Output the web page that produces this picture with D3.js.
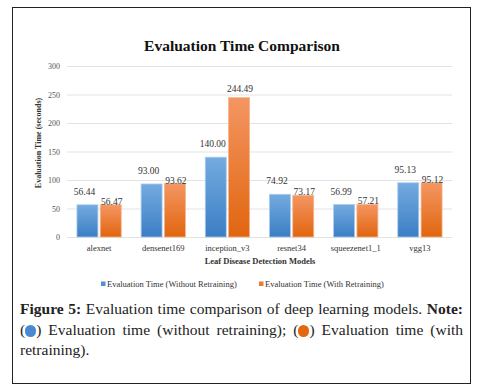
<!DOCTYPE html>
<html>
<head>
<meta charset="utf-8">
<script src="https://cdn.jsdelivr.net/npm/d3@7"></script>
<style>
  body { margin: 0; background: #fff; }
  #frame { position: absolute; left: 12px; top: 7px; width: 459px; height: 377px;
           border: 1.5px solid #222; box-sizing: border-box; }
  svg { position: absolute; left: 0; top: 0; }
  .cap { position: absolute; left: 20px; width: 443px;
         font-family: "Liberation Serif", "Times New Roman", serif;
         font-size: 15.5px; color: #222; white-space: nowrap; }
  .cap.j { text-align: justify; text-align-last: justify; }
  .dot { display: inline-block; width: 11px; height: 12px; border-radius: 6px; vertical-align: -2px; }
</style>
</head>
<body>
<div id="frame"></div>
<svg width="479" height="390"></svg>
<div class="cap j" style="top:300px"><b>Figure 5:</b> Evaluation time comparison of deep learning models. <b>Note:</b></div>
<div class="cap j" style="top:321px">(<span class="dot" style="background:#4a88d2"></span>) Evaluation time (without retraining); (<span class="dot" style="background:#e2690f"></span>) Evaluation time (with</div>
<div class="cap" style="top:341px">retraining).</div>
<script>
var models = ['alexnet', 'densenet169', 'inception_v3', 'resnet34', 'squeezenet1_1', 'vgg13'];
var withoutRetraining = [56.44, 93.00, 140.00, 74.92, 56.99, 95.13];
var withRetraining = [56.47, 93.62, 244.49, 73.17, 57.21, 95.12];
var seriesNames = ['Evaluation Time (Without Retraining)', 'Evaluation Time (With Retraining)'];
var yTicks = [0, 50, 100, 150, 200, 250, 300];

var svg = d3.select('svg');
var serif = '"Liberation Serif", "Times New Roman", serif';

var x0 = d3.scaleBand().domain(models).range([67, 452]).paddingInner(0.31).paddingOuter(0.155);
var x1 = d3.scaleBand().domain([0, 1]).range([0, x0.bandwidth()]).paddingInner(0.1);
var y = d3.scaleLinear().domain([0, 300]).range([237, 66]);

// gradients
var defs = svg.append('defs');
var grads = [['gBlue', '#74abe0', '#3b7ec4'], ['gOrange', '#f49662', '#e1650f']];
grads.forEach(g => {
    var lg = defs.append('linearGradient').attr('id', g[0])
        .attr('x1', 0).attr('y1', 0).attr('x2', 0).attr('y2', 1);
    lg.append('stop').attr('offset', '0%').attr('stop-color', g[1]);
    lg.append('stop').attr('offset', '100%').attr('stop-color', g[2]);
});

// title
svg.append('text').attr('x', 242).attr('y', 51).attr('text-anchor', 'middle')
    .attr('font-family', serif).attr('font-weight', 'bold').attr('font-size', 15.5)
    .attr('fill', '#111').text('Evaluation Time Comparison');

// grid + y axis
var yAxis = d3.axisLeft(y).tickValues(yTicks).tickSize(-(452 - 67)).tickPadding(7);
var ga = svg.append('g').attr('transform', 'translate(67,0)').call(yAxis);
ga.select('.domain').remove();
ga.selectAll('.tick line').attr('stroke', '#e3e3e3').attr('stroke-width', 1);
ga.selectAll('.tick text').attr('font-family', serif).attr('font-size', 8).attr('fill', '#555');

// bars
var data = models.map((m, i) => ({ model: m, vals: [withoutRetraining[i], withRetraining[i]] }));
var groups = svg.selectAll('g.grp').data(data).enter().append('g')
    .attr('class', 'grp').attr('transform', d => 'translate(' + x0(d.model) + ',0)');

groups.selectAll('rect').data(d => d.vals.map((v, k) => ({ v: v, k: k })))
    .enter().append('rect')
    .attr('x', d => x1(d.k))
    .attr('y', d => y(d.v))
    .attr('width', x1.bandwidth())
    .attr('height', d => y(0) - y(d.v))
    .attr('fill', d => d.k === 0 ? 'url(#gBlue)' : 'url(#gOrange)')
    .attr('stroke', d => d.k === 0 ? '#a9cbee' : '#f6b48a')
    .attr('stroke-width', 0.8);

groups.selectAll('text').data(d => d.vals.map((v, k) => ({ v: v, k: k })))
    .enter().append('text')
    .attr('x', d => x1(d.k) + x1.bandwidth() / 2 + (d.k === 0 ? -3 : 1))
    .attr('y', d => y(d.v) - (d.k === 0 ? 10 : (d.v > 200 ? 6 : 0)))
    .attr('text-anchor', 'middle')
    .attr('font-family', serif).attr('font-size', 9.5).attr('fill', '#333')
    .text(d => d.v.toFixed(2));

// x labels
svg.selectAll('text.xl').data(models).enter().append('text')
    .attr('class', 'xl')
    .attr('x', d => x0(d) + x0.bandwidth() / 2)
    .attr('y', 251)
    .attr('text-anchor', 'middle')
    .attr('font-family', serif).attr('font-size', 8.5).attr('fill', '#333')
    .text(d => d);

// axis titles
svg.append('text').attr('x', 260).attr('y', 264).attr('text-anchor', 'middle')
    .attr('font-family', serif).attr('font-weight', 'bold').attr('font-size', 8.5)
    .attr('fill', '#333').text('Leaf Disease Detection Models');
svg.append('text').attr('transform', 'translate(41,143) rotate(-90)').attr('text-anchor', 'middle')
    .attr('font-family', serif).attr('font-weight', 'bold').attr('font-size', 8)
    .attr('fill', '#333').text('Evaluation Time (seconds)');

// legend
var legX = [101, 259];
var legCol = ['#4f8fd6', '#ee7a30'];
seriesNames.forEach((s, i) => {
    svg.append('rect').attr('x', legX[i]).attr('y', 281.5).attr('width', 4.5).attr('height', 4.5)
        .attr('fill', legCol[i]);
    svg.append('text').attr('x', legX[i] + 6).attr('y', 287)
        .attr('font-family', serif).attr('font-size', 8.5).attr('fill', '#333').text(s);
});
</script>
</body>
</html>
